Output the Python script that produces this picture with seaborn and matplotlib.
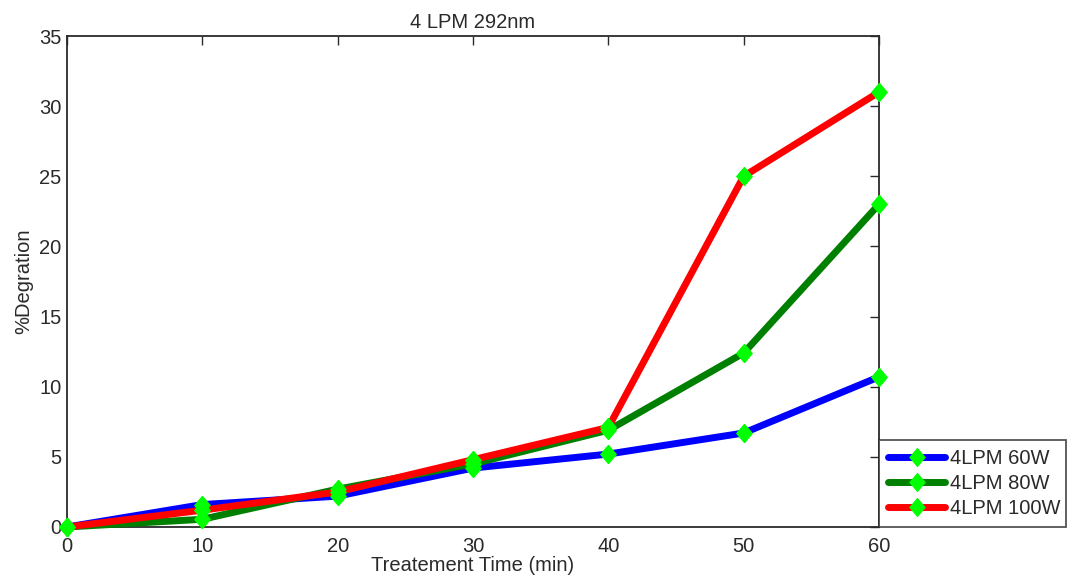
import matplotlib
matplotlib.use("Agg")
import matplotlib.pyplot as plt
import seaborn as sns

# Treatment time (min) and % degradation for each lamp power at 4 LPM
time_min = [0, 10, 20, 30, 40, 50, 60]
deg_60w = [0, 1.6, 2.2, 4.2, 5.2, 6.7, 10.7]
deg_80w = [0, 0.55, 2.7, 4.5, 6.9, 12.4, 23.0]
deg_100w = [0, 1.2, 2.5, 4.8, 7.1, 25.0, 31.0]
series_labels = ["4LPM 60W", "4LPM 80W", "4LPM 100W"]
series_colors = ["#0000ff", "#008000", "#ff0000"]

sns.set_theme(style="white")
plt.rcParams["font.family"] = ["Liberation Sans", "DejaVu Sans"]
fs = 14.5
txt = "#2a2a2a"

# slightly narrow diamond marker
diamond = [(0, 1), (0.85, 0), (0, -1), (-0.85, 0), (0, 1)]
mk = dict(marker=diamond, markersize=13, markerfacecolor="#00ff00",
          markeredgecolor="#00ff00")

fig = plt.figure(figsize=(10.69, 5.81), dpi=100)
ax = fig.add_axes([67 / 1069, 54 / 581, (879 - 67) / 1069, (527 - 36) / 581])

all_series = [deg_60w, deg_80w, deg_100w]
for vals, lab, col in zip(all_series, series_labels, series_colors):
    sns.lineplot(x=time_min, y=vals, ax=ax, color=col, label=lab, linewidth=5,
                 legend=False, errorbar=None, clip_on=False, zorder=2, **mk)
# markers drawn again on top of every line
for vals, col in zip(all_series, series_colors):
    sns.lineplot(x=time_min, y=vals, ax=ax, color=col, linestyle="none",
                 legend=False, errorbar=None, clip_on=False, zorder=3, **mk)

ax.set_xlim(0, 60)
ax.set_ylim(0, 35)
ax.set_xticks(range(0, 61, 10))
ax.set_yticks(range(0, 36, 5))
ax.tick_params(direction="in", length=6.5, width=1, top=True, right=True,
               labelsize=fs, colors=txt)
ax.tick_params(axis="x", pad=7)
ax.tick_params(axis="y", pad=4)
for sp in ax.spines.values():
    sp.set_visible(True)
    sp.set_color(txt)
    sp.set_linewidth(1.3)
    sp.set_zorder(1)

ax.set_title("4 LPM 292nm", fontsize=fs, color=txt, pad=6)
ax.set_xlabel("Treatement Time (min)", fontsize=fs, color=txt, labelpad=0)
ax.set_ylabel("%Degration", fontsize=fs, color=txt, labelpad=4)

handles, labels = ax.get_legend_handles_labels()
leg = ax.legend(handles, labels, loc="lower left",
                bbox_to_anchor=(879 / 1069, 54 / 581, 187 / 1069, 87 / 581),
                bbox_transform=fig.transFigure, mode="expand", borderaxespad=0,
                fontsize=fs, handlelength=2.85, handletextpad=0.25,
                labelspacing=0.3, borderpad=0.45, frameon=True, fancybox=False)
leg.get_frame().set_edgecolor(txt)
leg.get_frame().set_linewidth(1.3)
for t in leg.get_texts():
    t.set_color(txt)

fig.savefig("out.png", dpi=100)
